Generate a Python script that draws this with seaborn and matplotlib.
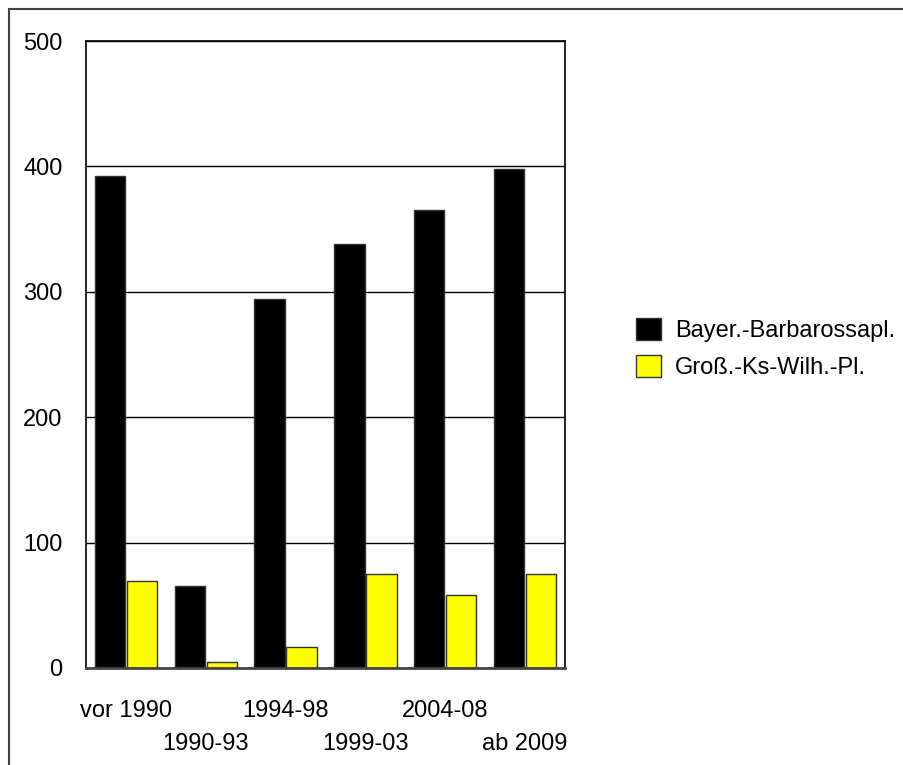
import matplotlib
matplotlib.use("Agg")
import matplotlib.pyplot as plt
from matplotlib.patches import Rectangle, Patch
from matplotlib.ticker import FixedLocator, FixedFormatter
import seaborn as sns
import pandas as pd

# Zeiträume und Werte je Platz
perioden = ["vor 1990", "1990-93", "1994-98", "1999-03", "2004-08", "ab 2009"]
bayer_barbarossapl = [392, 65, 294, 338, 365, 398]
gross_ks_wilh_pl = [69, 5, 17, 75, 58, 75]
serien = ["Bayer.-Barbarossapl.", "Groß.-Ks-Wilh.-Pl."]
farben = ["#000000", "#FFFF00"]
y_ticks = [0, 100, 200, 300, 400, 500]

df = pd.DataFrame({
    "Periode": perioden * 2,
    "Wert": bayer_barbarossapl + gross_ks_wilh_pl,
    "Platz": [serien[0]] * len(perioden) + [serien[1]] * len(perioden),
})

sns.set_theme(style="white")
plt.rcParams["font.family"] = ["Liberation Sans", "DejaVu Sans"]
plt.rcParams["text.color"] = "black"
plt.rcParams["xtick.color"] = "black"
plt.rcParams["ytick.color"] = "black"

fig = plt.figure(figsize=(9.04, 7.65), dpi=100)
ax = fig.add_axes([86 / 904, 1 - 668 / 765, (565 - 86) / 904, (668 - 41) / 765])

sns.barplot(data=df, x="Periode", y="Wert", hue="Platz", order=perioden,
            hue_order=serien, palette=farben, saturation=1, width=0.8,
            gap=0.05, ax=ax, edgecolor="#333333", linewidth=1.0,
            legend=False, errorbar=None)

ax.set_ylim(0, 500)
ax.set_yticks(y_ticks)
ax.set_yticklabels([str(t) for t in y_ticks], fontsize=17)
ax.yaxis.grid(True, color="black", linewidth=1.0)
ax.set_axisbelow(True)
ax.set_xlabel("")
ax.set_ylabel("")

# Beschriftungen der x-Achse versetzt in zwei Zeilen:
# gerade Positionen als Haupt-, ungerade als Nebenticks mit größerem Abstand
pos = list(range(len(perioden)))
ax.xaxis.set_major_locator(FixedLocator(pos[0::2]))
ax.xaxis.set_major_formatter(FixedFormatter(perioden[0::2]))
ax.xaxis.set_minor_locator(FixedLocator(pos[1::2]))
ax.xaxis.set_minor_formatter(FixedFormatter(perioden[1::2]))
ax.tick_params(axis="x", which="major", length=0, pad=23, labelsize=17,
               labelcolor="black")
ax.tick_params(axis="x", which="minor", length=0, pad=47, labelsize=17,
               labelcolor="black")
ax.tick_params(axis="y", length=0, pad=17, labelcolor="black")

for side in ["left", "top", "right"]:
    ax.spines[side].set_color("black")
    ax.spines[side].set_linewidth(1.2)
ax.spines["bottom"].set_color("#444444")
ax.spines["bottom"].set_linewidth(2.0)

handles = [Patch(facecolor=farben[0], edgecolor="#333333", linewidth=1.0),
           Patch(facecolor=farben[1], edgecolor="#333333", linewidth=1.0)]
fig.legend(handles, serien, loc="upper left",
           bbox_to_anchor=(636 / 904, 1 - 318 / 765),
           frameon=False, fontsize=17, handlelength=1.05, handleheight=1.05,
           handletextpad=0.6, labelspacing=0.55, borderpad=0, borderaxespad=0)

# Äußerer Rahmen
fig.patches.append(Rectangle((9 / 904, -0.1), 1.2, 1 - 9 / 765 + 0.1,
                             transform=fig.transFigure, fill=False,
                             edgecolor="#404040", linewidth=1.5))

fig.savefig("out.png", dpi=100)
